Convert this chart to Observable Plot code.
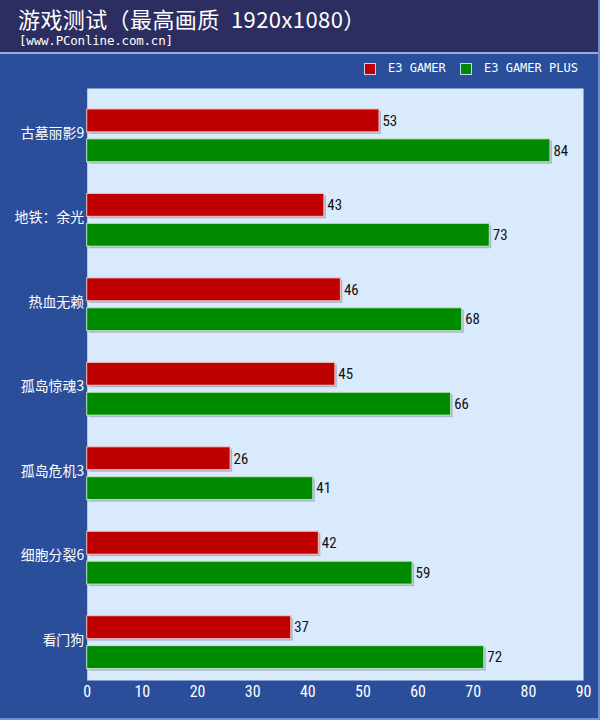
<!DOCTYPE html>
<html><head><meta charset="utf-8">
<script src="https://cdn.jsdelivr.net/npm/d3@7"></script>
<script src="https://cdn.jsdelivr.net/npm/@observablehq/plot@0.6"></script>
<style>
html,body{margin:0;padding:0;background:#2a4e9a;}
#wrap{position:relative;width:600px;height:720px;overflow:hidden;background:#2a4e9a;box-sizing:border-box;border-right:2px solid #6f8fcf;border-bottom:2px solid #6f8fcf;}
#head{height:52px;background:#2c2d60;border-bottom:2px solid #93aee0;box-sizing:content-box;position:relative;}
#title{position:absolute;left:18px;top:7px;line-height:22px;height:22px;color:#fff;font-size:22px;font-family:"Noto Sans CJK SC",sans-serif;white-space:nowrap;letter-spacing:0.4px;}
#sub{position:absolute;left:19px;top:34px;line-height:13px;height:13px;color:#fff;font-size:12.5px;font-family:"DejaVu Sans Mono",monospace;white-space:nowrap;letter-spacing:-0.2px;}
#legend{height:34px;position:relative;font-size:12px;font-family:"DejaVu Sans Mono",monospace;color:#fff;}
.sw{position:absolute;top:9px;width:10px;height:10px;border:1px solid #c8d4ee;}
.lt{position:absolute;top:7px;line-height:14px;white-space:nowrap;}
svg{display:block;}
</style></head>
<body>
<div id="wrap">
  <div id="head"><div id="title">游戏测试（最高画质&#x2002;1920x1080）</div><div id="sub">[www.PConline.com.cn]</div></div>
  <div id="legend"></div>
  <div id="chart"></div>
</div>
<script>
const games = ["古墓丽影9","地铁：余光","热血无赖","孤岛惊魂3","孤岛危机3","细胞分裂6","看门狗"];
const e3Gamer = [53,43,46,45,26,42,37];
const e3GamerPlus = [84,73,68,66,41,59,72];
const seriesNames = ["E3 GAMER","E3 GAMER PLUS"];
const seriesColors = ["#bf0000","#008a00"];
const xTicks = [0,10,20,30,40,50,60,70,80,90];

const rowsA = games.map((g,i)=>({game:g, value:e3Gamer[i]}));
const rowsB = games.map((g,i)=>({game:g, value:e3GamerPlus[i]}));

// legend
const leg = document.getElementById("legend");
const legPos = [{sw:364, tx:388},{sw:460, tx:484}];
seriesNames.forEach((s,i)=>{
  const sw = document.createElement("div"); sw.className="sw"; sw.style.left=legPos[i].sw+"px"; sw.style.background=seriesColors[i]; leg.appendChild(sw);
  const t = document.createElement("div"); t.className="lt"; t.style.left=legPos[i].tx+"px"; t.textContent=s; leg.appendChild(t);
});

const band = 84.75;
const numFont = '"Liberation Sans Narrow","Roboto Condensed","DejaVu Sans Condensed",sans-serif';
const H = 632;
const redIn = {insetTop:15.4, insetBottom: band-38.4};
const grnIn = {insetTop:45.4, insetBottom: band-68.4};

const chart = Plot.plot({
  width: 600, height: H,
  marginLeft: 87, marginRight: 15, marginTop: 0, marginBottom: 38,
  style: {background:"#2a4e9a", overflow:"visible"},
  x: {domain:[0,90], ticks: xTicks, tickSize:0, tickPadding:3, label:null},
  y: {domain: games, range:[5.6, 5.6 + band*games.length], padding:0, round:false, tickSize:0, tickPadding:3, label:null},
  marks: [
    Plot.frame({fill:"#d9eafc", stroke:null}),
    Plot.barX(rowsA, {x:"value", y:"game", fill:"#a9b6cc", dx:2, dy:2, ...redIn}),
    Plot.barX(rowsB, {x:"value", y:"game", fill:"#a9b6cc", dx:2, dy:2, ...grnIn}),
    Plot.barX(rowsA, {x:"value", y:"game", fill:seriesColors[0], stroke:"#f3c4c4", strokeWidth:1, ...redIn}),
    Plot.barX(rowsB, {x:"value", y:"game", fill:seriesColors[1], stroke:"#c4e8c4", strokeWidth:1, ...grnIn}),
    Plot.text(rowsA, {x:"value", y:"game", text:"value", dx:3, dy:-15.5, textAnchor:"start", fill:"#111", fontSize:15, fontFamily:numFont}),
    Plot.text(rowsB, {x:"value", y:"game", text:"value", dx:3, dy:14.5, textAnchor:"start", fill:"#111", fontSize:15, fontFamily:numFont}),
    Plot.axisY({tickSize:0, tickPadding:3, fill:"#fff", fontSize:14, fontFamily:'"Noto Sans CJK SC",sans-serif', dy:-3, label:null}),
    Plot.axisX({ticks:xTicks, tickSize:0, tickPadding:5, fill:"#fff", fontSize:16, fontFamily:numFont, label:null})
  ]
});
document.getElementById("chart").appendChild(chart);
</script>
</body></html>
